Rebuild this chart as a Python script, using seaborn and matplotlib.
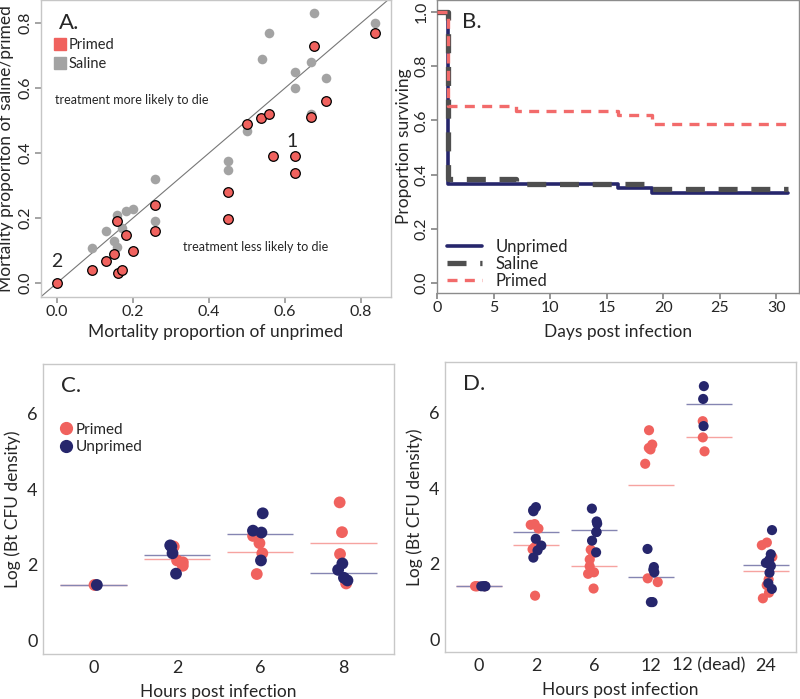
import numpy as np
import pandas as pd
import matplotlib
matplotlib.use('Agg')
import matplotlib.pyplot as plt
import seaborn as sns
from matplotlib.lines import Line2D

# ---------------------------------------------------------------
# DATA
# ---------------------------------------------------------------
# A. mortality proportions (x = unprimed, y = primed / saline)
a_primed_x = [0.0, 0.091, 0.129, 0.150, 0.161, 0.172, 0.159, 0.181, 0.199, 0.259, 0.259,
              0.449, 0.449, 0.499, 0.538, 0.559, 0.568, 0.627, 0.627, 0.668, 0.676, 0.708, 0.837]
a_primed_y = [0.0, 0.039, 0.067, 0.089, 0.030, 0.040, 0.190, 0.149, 0.099, 0.239, 0.159,
              0.279, 0.198, 0.489, 0.509, 0.520, 0.390, 0.390, 0.338, 0.510, 0.730, 0.561, 0.769]
a_saline_x = [0.091, 0.129, 0.150, 0.159, 0.172, 0.159, 0.181, 0.201, 0.259, 0.259, 0.449,
              0.449, 0.499, 0.539, 0.559, 0.627, 0.627, 0.668, 0.668, 0.677, 0.708, 0.837]
a_saline_y = [0.108, 0.159, 0.130, 0.210, 0.169, 0.110, 0.221, 0.229, 0.320, 0.190, 0.377,
              0.349, 0.469, 0.689, 0.769, 0.649, 0.600, 0.521, 0.679, 0.831, 0.631, 0.800]

# B. survival curves
b_unprimed_t = [0, 1, 16, 19, 31]
b_unprimed_s = [1.0, 0.367, 0.350, 0.333, 0.333]
b_saline_t = [0, 1, 7, 19, 31]
b_saline_s = [1.0, 0.383, 0.367, 0.348, 0.348]
b_primed_t = [0, 1, 7, 16, 19, 31]
b_primed_s = [1.0, 0.652, 0.636, 0.619, 0.585, 0.585]

# C. Bt CFU density, first experiment
c_hours = ['0', '2', '6', '8']
c_primed = [[1.46], [2.48, 2.11, 1.97, 2.06], [2.76, 2.57, 2.30, 1.75], [3.65, 2.86, 2.28, 1.50]]
c_unprimed = [[1.46], [2.48, 2.30, 2.51, 1.76], [3.36, 2.85, 2.90, 2.11], [2.03, 1.86, 1.65, 1.58]]

# D. Bt CFU density, second experiment
d_hours = ['0', '2', '6', '12', '12 (dead)', '24']
d_primed = [[1.40, 1.40, 1.40, 1.40],
            [3.05, 3.03, 2.93, 2.52, 2.43, 2.38, 1.15],
            [2.37, 2.28, 2.11, 1.93, 1.77, 1.73, 1.34],
            [5.54, 5.16, 5.07, 5.03, 4.65, 1.61, 1.51],
            [5.78, 5.35, 4.98],
            [2.56, 2.49, 2.18, 1.58, 1.43, 1.23, 1.08]]
d_unprimed = [[1.40, 1.40, 1.40, 1.40],
              [3.50, 3.42, 3.39, 2.66, 2.48, 2.35, 2.16],
              [3.46, 3.12, 3.06, 2.84, 2.84, 2.61, 2.30],
              [2.39, 1.91, 1.84, 1.77, 0.98, 0.98],
              [6.71, 6.37, 5.65],
              [2.89, 2.25, 2.10, 2.02, 1.94, 1.76, 1.48, 1.33]]

# ---------------------------------------------------------------
# STYLE
# ---------------------------------------------------------------
RED = '#F0625E'
NAVY = '#26266C'
GRAY = '#A3A3A3'
DARKGRAY = '#4F4F4F'
RED_LINE = '#F6A3A0'
NAVY_LINE = '#8585B2'

sns.set_theme(style='white')
plt.rcParams['font.family'] = ['Lato', 'DejaVu Sans']
np.random.seed(3)

fig = plt.figure(figsize=(8, 6.99), dpi=100)
axA = fig.add_axes([0.05125, 0.5751, 0.4375, 0.4249])
axB = fig.add_axes([0.54625, 0.5808, 0.4525, 0.4192])
axC = fig.add_axes([0.05375, 0.0644, 0.43875, 0.4149])
axD = fig.add_axes([0.55625, 0.0672, 0.43875, 0.4149])


def frame(ax, color):
    for s in ax.spines.values():
        s.set_visible(True)
        s.set_color(color)
        s.set_linewidth(1.0)


# ---------------------------------------------------------------
# A
# ---------------------------------------------------------------
ax = axA
ax.axline((0, 0), slope=1, color='#777777', lw=0.8, zorder=1)
sns.scatterplot(x=a_saline_x, y=a_saline_y, color=GRAY, s=48, linewidth=0, ax=ax, zorder=2)
sns.scatterplot(x=a_primed_x, y=a_primed_y, color=RED, s=48, edgecolor='black',
                linewidth=0.9, ax=ax, zorder=3)
ax.set_xlim(-0.042, 0.879)
ax.set_ylim(-0.043, 0.871)
ax.set_xticks([0, 0.2, 0.4, 0.6, 0.8])
ax.set_xticklabels(['0.0', '0.2', '0.4', '0.6', '0.8'])
ax.set_yticks([0, 0.2, 0.4, 0.6, 0.8])
ax.set_yticklabels(['0.0', '0.2', '0.4', '0.6', '0.8'], rotation=90, va='center')
ax.tick_params(labelsize=11.5, length=4, direction='out', color='#999999', pad=2)
ax.tick_params(axis='both', which='both', bottom=True, left=True)
ax.set_xlabel('Mortality proportion of unprimed', fontsize=12.5, labelpad=3)
ax.set_ylabel('Mortality proporiton of saline/primed', fontsize=12.5, labelpad=3)
frame(ax, '#C6C6C6')
ax.text(0.052, 0.955, 'A.', transform=ax.transAxes, fontsize=16, va='top')
ax.text(0.04, 0.663, 'treatment more likely to die', transform=ax.transAxes,
        fontsize=9, va='center')
ax.text(0.406, 0.168, 'treatment less likely to die', transform=ax.transAxes,
        fontsize=9, va='center')
ax.text(0.62, 0.42, '1', fontsize=14, ha='center')
ax.text(0.0, 0.05, '2', fontsize=14, ha='center')
handles = [Line2D([], [], marker='s', ls='', color=RED, markersize=8.5),
           Line2D([], [], marker='s', ls='', color=GRAY, markersize=8.5)]
ax.legend(handles, ['Primed', 'Saline'], loc='upper left', bbox_to_anchor=(0.005, 0.905),
          frameon=False, fontsize=10.5, handletextpad=0.1, borderpad=0.2,
          labelspacing=0.3, handlelength=1.0)

# ---------------------------------------------------------------
# B
# ---------------------------------------------------------------
ax = axB
sns.lineplot(x=b_unprimed_t, y=b_unprimed_s, drawstyle='steps-post', color=NAVY, lw=2.6,
             ax=ax, label='Unprimed', zorder=2)
sns.lineplot(x=b_saline_t, y=b_saline_s, drawstyle='steps-post', color=DARKGRAY, lw=3.8,
             dashes=False, ax=ax, label='Saline', zorder=3)
ax.lines[-1].set_dashes((3.6, 2.6))
sns.lineplot(x=b_primed_t, y=b_primed_s, drawstyle='steps-post', color='#F26B6B', lw=2.4,
             ax=ax, label='Primed', zorder=4)
ax.lines[-1].set_dashes((3.0, 2.2))
ax.set_xlim(0, 32)
ax.set_ylim(-0.037, 1.044)
ax.set_xticks([0, 5, 10, 15, 20, 25, 30])
ax.set_yticks([0, 0.2, 0.4, 0.6, 0.8, 1.0])
ax.set_yticklabels(['0.0', '0.2', '0.4', '0.6', '0.8', '1.0'], rotation=90, va='center')
ax.tick_params(labelsize=11.5, length=4, direction='out', color='#888888', pad=2)
ax.tick_params(axis='both', which='both', bottom=True, left=True)
ax.set_xlabel('Days post infection', fontsize=12.5, labelpad=6)
ax.set_ylabel('Proportion surviving', fontsize=12.5, labelpad=2)
frame(ax, '#8C8C8C')
ax.text(0.07, 0.96, 'B.', transform=ax.transAxes, fontsize=16, va='top')
ax.legend(loc='lower left', bbox_to_anchor=(-0.005, -0.025), frameon=False, fontsize=12,
          handlelength=2.1, handletextpad=0.8, labelspacing=0.05, borderpad=0.2)


# ---------------------------------------------------------------
# C and D
# ---------------------------------------------------------------
def long_table(hours, primed, unprimed):
    rows = []
    for h, p, u in zip(hours, primed, unprimed):
        rows += [(h, 'Primed', v) for v in p]
        rows += [(h, 'Unprimed', v) for v in u]
    return pd.DataFrame(rows, columns=['hours', 'group', 'cfu'])


def cfu_panel(ax, hours, primed, unprimed, size, jitter, xlim, ylim, letter):
    df = long_table(hours, primed, unprimed)
    sns.stripplot(data=df, x='hours', y='cfu', hue='group', order=hours,
                  hue_order=['Primed', 'Unprimed'], palette={'Primed': RED, 'Unprimed': NAVY},
                  size=size, jitter=jitter, linewidth=0, ax=ax, legend=False, zorder=3)
    means = df.groupby(['hours', 'group'])['cfu'].mean()
    for i, h in enumerate(hours):
        ax.hlines(means[(h, 'Primed')], i - 0.4, i + 0.4, color=RED_LINE, lw=1.0, zorder=2)
        ax.hlines(means[(h, 'Unprimed')], i - 0.4, i + 0.4, color=NAVY_LINE, lw=1.0, zorder=2)
    ax.set_xlim(*xlim)
    ax.set_ylim(*ylim)
    ax.set_yticks([0, 2, 4, 6])
    ax.tick_params(labelsize=13, length=0, pad=4)
    ax.set_xlabel('Hours post infection', fontsize=12.5, labelpad=6)
    ax.set_ylabel('Log (Bt CFU density)', fontsize=12.5, labelpad=4)
    frame(ax, '#C8C8C8')
    ax.text(0.05, 0.96, letter, transform=ax.transAxes, fontsize=16, va='top')


cfu_panel(axC, c_hours, c_primed, c_unprimed, 8.5, 0.09, (-0.61, 3.61), (-0.37, 7.32), 'C.')
handles = [Line2D([], [], marker='o', ls='', color=RED, markersize=8.5),
           Line2D([], [], marker='o', ls='', color=NAVY, markersize=8.5)]
axC.legend(handles, ['Primed', 'Unprimed'], loc='upper left', bbox_to_anchor=(0.01, 0.835),
           frameon=False, fontsize=11, handletextpad=0.0, labelspacing=0.25,
           handlelength=1.2, borderpad=0.2)

cfu_panel(axD, d_hours, d_primed, d_unprimed, 7.3, 0.12, (-0.59, 5.52), (-0.345, 7.35), 'D.')

plt.savefig('out.png', dpi=100)
